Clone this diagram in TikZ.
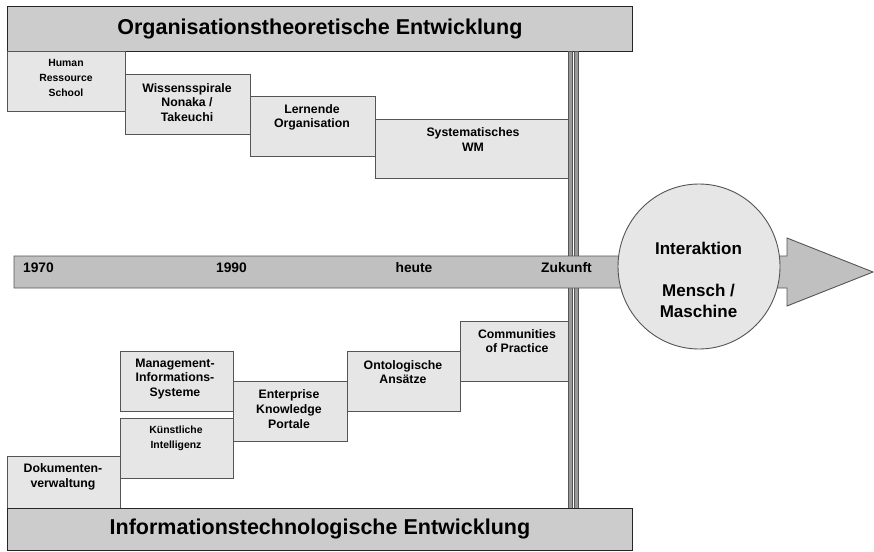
\documentclass[tikz,border=0pt]{standalone}
\usepackage{fontspec}
\setmainfont{Liberation Sans}
\usetikzlibrary{shapes.geometric}
\definecolor{bannergray}{HTML}{CCCCCC}
\definecolor{boxgray}{HTML}{E6E6E6}
\definecolor{bargray}{HTML}{C0C0C0}
\definecolor{linegray}{HTML}{9A9A9A}
\definecolor{edgegray}{HTML}{555555}
\begin{document}
\begin{tikzpicture}[x=1pt,y=-1pt,
  banner/.style={draw=black!85, line width=0.8pt, fill=bannergray, anchor=north west, inner sep=0pt,
    font=\bfseries\fontsize{21.5}{24}\selectfont},
  stepbox/.style={draw=edgegray, line width=0.9pt, fill=boxgray},
  lbl/.style={inner sep=0pt, align=center, font=\bfseries\fontsize{12.3}{14.8}\selectfont},
  smalllbl/.style={inner sep=0pt, align=center, font=\bfseries\fontsize{10.4}{15}\selectfont},
  yearlbl/.style={inner sep=0pt, font=\bfseries\fontsize{13.8}{16}\selectfont},
  circlbl/.style={inner sep=0pt, align=center, font=\bfseries\fontsize{17}{21}\selectfont},
  vbar/.style={draw=edgegray, line width=0.6pt, fill=linegray}
]
\useasboundingbox (0,0) rectangle (874,551);

% top banner
\node[banner, minimum width=625pt, minimum height=45pt] (topban) at (7,6) {Organisationstheoretische Entwicklung};

% upper boxes
\draw[stepbox] (7,51) rectangle (125,111);
\draw[stepbox] (125,74) rectangle (250,134);
\draw[stepbox] (250,96) rectangle (375,156);
\draw[stepbox] (375,119) rectangle (568,178);
\node[smalllbl] (hrs) at (66,78) {Human\\Ressource\\School};
\node[lbl] (wis) at (187,102.5) {Wissensspirale\\Nonaka /\\Takeuchi};
\node[lbl, font=\bfseries\fontsize{12.3}{13.8}\selectfont] (ler) at (312,117) {Lernende\\Organisation};
\node[lbl] (swm) at (473,139.5) {Systematisches\\WM};

% lower boxes
\draw[stepbox] (120,351) rectangle (233,411);
\draw[stepbox] (120,418) rectangle (233,478);
\draw[stepbox] (7,456) rectangle (120,508);
\draw[stepbox] (233,381) rectangle (347,441);
\draw[stepbox] (347,351) rectangle (460,411);
\draw[stepbox] (460,321) rectangle (568,381);
\node[lbl] (mis) at (175,379) {Management-\\Informations-\\Systeme};
\node[smalllbl] (ki) at (176,438.5) {Künstliche\\Intelligenz};
\node[lbl] (dok) at (63,477) {Dokumenten-\\verwaltung};
\node[lbl] (ekp) at (289,409) {Enterprise\\Knowledge\\Portale};
\node[lbl] (ont) at (403,372) {Ontologische\\Ansätze};
\node[lbl] (cop) at (517,341) {Communities\\of Practice};

% vertical double line (behind the time arrow)
\draw[vbar] (568,51) rectangle (572,508);
\draw[vbar] (573.8,51) rectangle (577.8,508);

% time arrow
\draw[draw=edgegray, line width=0.9pt, fill=bargray]
  (14,256) -- (787,256) -- (787,238) -- (873,272) -- (787,306) -- (787,288) -- (14,288) -- cycle;
\node[yearlbl] (y1970) at (38.5,267.5) {1970};
\node[yearlbl] (y1990) at (231.5,267.5) {1990};
\node[yearlbl] (yheute) at (414,267.5) {heute};
\node[yearlbl] (yzuk) at (566.5,267.5) {Zukunft};

% circle
\node[draw=edgegray, line width=0.9pt, fill=boxgray, ellipse, minimum width=162pt, minimum height=165pt, inner sep=0pt] (circ) at (699,266.5) {};
\node[circlbl] (circtext) at (698.5,280) {Interaktion\\\mbox{}\\Mensch /\\Maschine};

% bottom banner
\node[banner, minimum width=625pt, minimum height=42pt] (botban) at (7,508) {Informationstechnologische Entwicklung};
\end{tikzpicture}
\end{document}
